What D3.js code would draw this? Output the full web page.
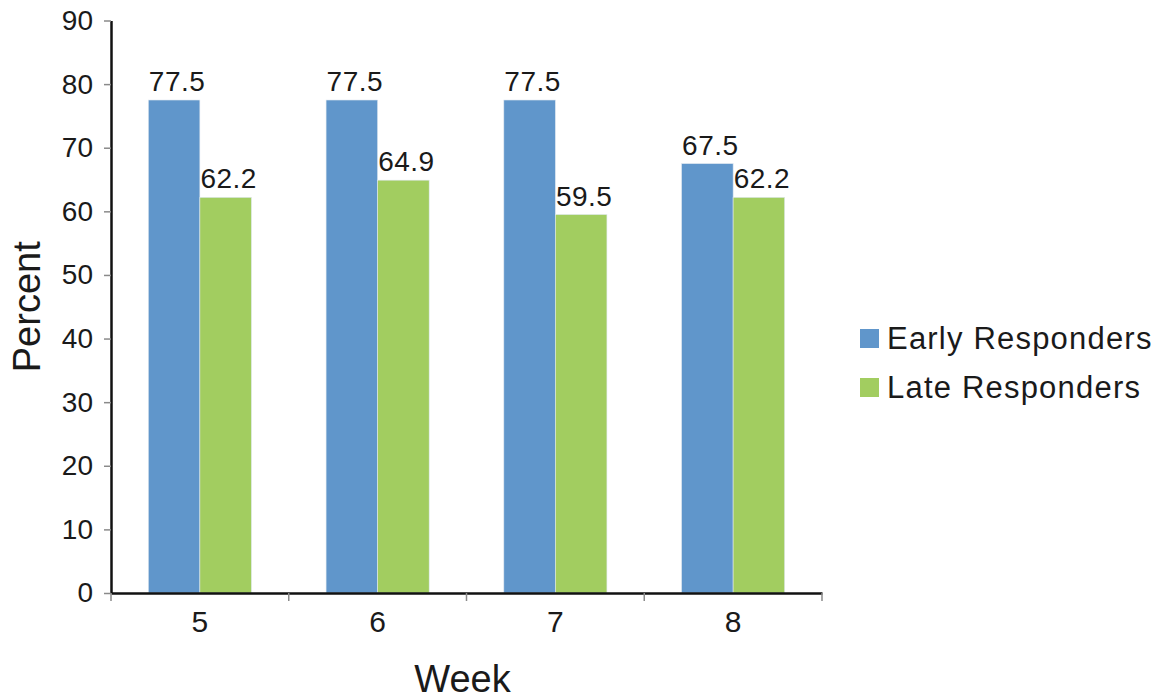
<!DOCTYPE html>
<html>
<head>
<meta charset="utf-8">
<script src="https://cdn.jsdelivr.net/npm/d3@7"></script>
<style>
  body { margin: 0; background: #fff; }
  text { font-family: "Liberation Sans", Arial, sans-serif; fill: #1a1a1a; }
</style>
</head>
<body>
<svg id="chart" width="1173" height="700"></svg>
<script>
var weeks = ["5", "6", "7", "8"];
var seriesNames = ["Early Responders", "Late Responders"];
var early = [77.5, 77.5, 77.5, 67.5];
var late = [62.2, 64.9, 59.5, 62.2];
var yTicks = [0, 10, 20, 30, 40, 50, 60, 70, 80, 90];

var colors = ["#6096cb", "#a2cd60"];

var svg = d3.select("svg#chart");
var margin = {top: 20.5, right: 351, bottom: 107, left: 111};
var width = +svg.attr("width") - margin.left - margin.right;
var height = +svg.attr("height") - margin.top - margin.bottom;
var g = svg.append("g").attr("transform", "translate(" + margin.left + "," + margin.top + ")");

var x0 = d3.scaleBand().domain(weeks).range([0, width]).padding(0);
var x1 = d3.scaleBand().domain(seriesNames)
    .range([x0.bandwidth() * 0.21, x0.bandwidth() * 0.79]).padding(0);
var y = d3.scaleLinear().domain([0, 90]).range([height, 0]);

var rows = weeks.map(function (w, i) {
    return {week: w, values: [
        {name: seriesNames[0], value: early[i]},
        {name: seriesNames[1], value: late[i]}
    ]};
});

var groups = g.selectAll(".week")
    .data(rows)
    .enter().append("g")
    .attr("class", "week")
    .attr("transform", function (d) { return "translate(" + x0(d.week) + ",0)"; });

groups.selectAll("rect")
    .data(function (d) { return d.values; })
    .enter().append("rect")
    .attr("x", function (d) { return x1(d.name); })
    .attr("y", function (d) { return y(d.value); })
    .attr("width", x1.bandwidth())
    .attr("height", function (d) { return height - y(d.value); })
    .attr("fill", function (d, i) { return colors[i]; })
    .attr("stroke", "#dfe8f0")
    .attr("stroke-width", 0.6);

groups.selectAll("text.val")
    .data(function (d) { return d.values; })
    .enter().append("text")
    .attr("class", "val")
    .attr("x", function (d) { return x1(d.name) + x1.bandwidth() / 2 + 3; })
    .attr("y", function (d) { return y(d.value) - 9; })
    .attr("text-anchor", "middle")
    .style("font-size", "28px")
    .style("letter-spacing", "0.5px")
    .text(function (d) { return d.value.toFixed(1); });

// y axis
var yAxis = g.append("g")
    .attr("class", "axis axis--y")
    .call(d3.axisLeft(y).tickValues(yTicks).tickSize(7).tickPadding(11).tickSizeOuter(0));
yAxis.select(".domain").attr("stroke", "#111").attr("stroke-width", 2.5);
yAxis.selectAll(".tick line").attr("stroke", "#8a8a8a").attr("stroke-width", 1.5);
yAxis.selectAll(".tick text").style("font-size", "28px").attr("fill", "#1a1a1a")
    .style("font-family", "'Liberation Sans', Arial, sans-serif");

// x axis: ticks at category boundaries
var xAxis = g.append("g")
    .attr("class", "axis axis--x")
    .attr("transform", "translate(0," + height + ")")
    .call(d3.axisBottom(x0).tickSize(0).tickPadding(18).tickSizeOuter(0));
xAxis.select(".domain").attr("stroke", "#111").attr("stroke-width", 2.5);
xAxis.selectAll(".tick text").style("font-size", "30px").attr("fill", "#1a1a1a")
    .style("font-family", "'Liberation Sans', Arial, sans-serif");
var bounds = weeks.map(function (w) { return x0(w); }).concat([width]);
xAxis.selectAll(".bound")
    .data(bounds)
    .enter().append("line")
    .attr("class", "bound")
    .attr("x1", function (d) { return d; })
    .attr("x2", function (d) { return d; })
    .attr("y1", 0)
    .attr("y2", 8)
    .attr("stroke", "#8a8a8a")
    .attr("stroke-width", 1.5);

// axis titles
g.append("text")
    .attr("x", width / 2 - 4)
    .attr("y", height + 99)
    .attr("text-anchor", "middle")
    .style("font-size", "38px")
    .text("Week");

g.append("text")
    .attr("transform", "rotate(-90)")
    .attr("x", -height / 2)
    .attr("y", -71)
    .attr("text-anchor", "middle")
    .style("font-size", "38px")
    .text("Percent");

// legend
var legend = svg.append("g").attr("transform", "translate(860,329)");
var items = legend.selectAll(".item")
    .data(seriesNames)
    .enter().append("g")
    .attr("class", "item")
    .attr("transform", function (d, i) { return "translate(0," + (i * 49) + ")"; });
items.append("rect")
    .attr("width", 19)
    .attr("height", 19)
    .attr("fill", function (d, i) { return colors[i]; });
items.append("text")
    .attr("x", 27)
    .attr("y", 20)
    .style("font-size", "31px")
    .style("letter-spacing", "1.2px")
    .text(function (d) { return d; });
</script>
</body>
</html>
